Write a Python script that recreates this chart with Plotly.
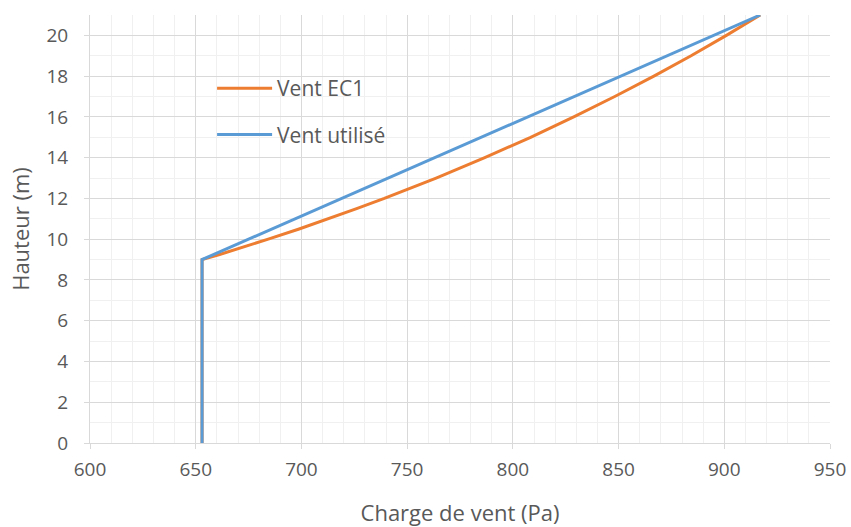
import plotly.graph_objects as go

# Wind load profile along the height (Pa vs m)
ec1_height = [0, 9, 9.25, 9.5, 9.75, 10, 10.5, 11, 11.5, 12, 12.5, 13, 14, 15, 16, 17, 18, 19, 20, 21]
ec1_load = [653, 653, 661.3, 669.1, 676.7, 684.3, 698.9, 712.8, 726.1, 739.2, 751.7, 763.7,
            786.7, 808.4, 828.8, 848.2, 866.7, 884.3, 901.0, 917.0]

used_height = [0, 9, 21]
used_load = [653, 653, 917]

x_ticks = [600, 650, 700, 750, 800, 850, 900, 950]
y_ticks = [0, 2, 4, 6, 8, 10, 12, 14, 16, 18, 20]

grey_text = "#595959"
font_family = "Open Sans, sans-serif"

fig = go.Figure()
fig.add_trace(go.Scatter(
    x=ec1_load, y=ec1_height, mode="lines", name="Vent EC1",
    line=dict(color="#ED7D31", width=3),
    legendgroup="a",
))
fig.add_trace(go.Scatter(
    x=used_load, y=used_height, mode="lines", name="Vent utilisé",
    line=dict(color="#5B9BD5", width=3),
    legendgroup="b",
))

axis_common = dict(
    showgrid=True, gridcolor="#d9d9d9", gridwidth=1,
    showline=True, linecolor="#d9d9d9", linewidth=1,
    ticks="outside", tickcolor="#d9d9d9", ticklen=5,
    tickfont=dict(size=19, color=grey_text, family=font_family),
    zeroline=False, mirror=False, automargin=False,
)

fig.update_xaxes(
    range=[600, 950], tickvals=x_ticks, ticklabelstandoff=4,
    minor=dict(dtick=10, showgrid=True, gridcolor="#f0f0f0", gridwidth=1, ticks=""),
    title=dict(text="Charge de vent (Pa)", font=dict(size=22, color=grey_text, family=font_family), standoff=27),
    **axis_common,
)
fig.update_yaxes(
    range=[0, 21], tickvals=y_ticks, ticklabelstandoff=12,
    minor=dict(dtick=1, showgrid=True, gridcolor="#f0f0f0", gridwidth=1, ticks=""),
    title=dict(text="Hauteur (m)", font=dict(size=22, color=grey_text, family=font_family), standoff=10),
    **axis_common,
)

fig.update_layout(
    width=851, height=527,
    margin=dict(l=90, r=21, t=15, b=84),
    paper_bgcolor="white", plot_bgcolor="white",
    font=dict(family=font_family, color=grey_text),
    showlegend=True,
    legend=dict(
        x=0.165, y=0.876, xanchor="left", yanchor="top",
        bgcolor="rgba(0,0,0,0)", font=dict(size=21, color=grey_text, family=font_family),
        itemwidth=55, tracegroupgap=16, traceorder="grouped",
    ),
)

fig.write_html("out.html")
